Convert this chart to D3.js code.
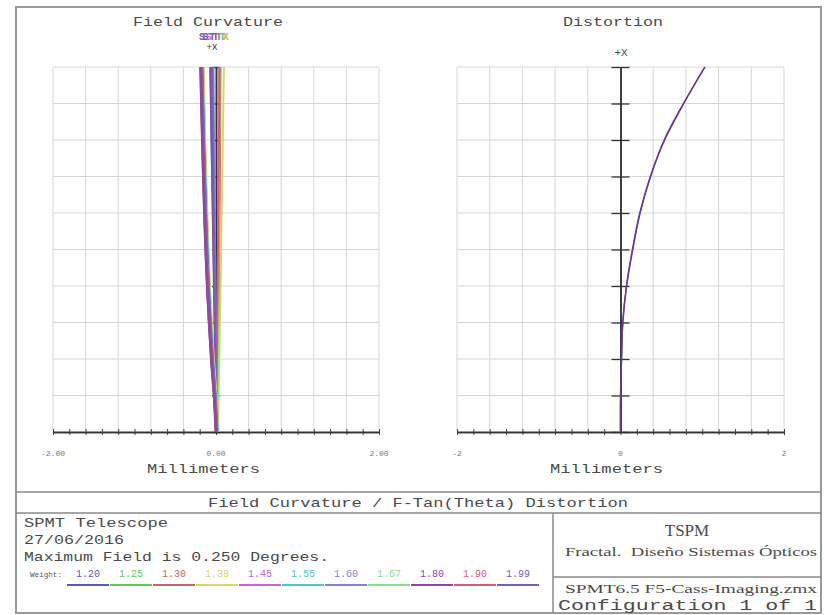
<!DOCTYPE html>
<html>
<head>
<meta charset="utf-8">
<script src="https://cdn.jsdelivr.net/npm/d3@7"></script>
<style>
body { margin: 0; background: #fff; }
svg { display: block; }
text { font-family: "Liberation Mono", "DejaVu Sans Mono", monospace; fill: #4a4a4a; white-space: pre; }
</style>
</head>
<body>
<svg id="chart" width="825" height="615"></svg>
<script>

// field points (degrees), the y axis of both plots
const fieldDeg = [0, 0.025, 0.05, 0.075, 0.1, 0.125, 0.15, 0.175, 0.2, 0.225, 0.25];

const wavelengths = ['1.20', '1.25', '1.30', '1.38', '1.45', '1.55', '1.60', '1.67', '1.80', '1.90', '1.99'];
const wlColors = ['#5a5ab4', '#5ec85e', '#c86464', '#d6d66a', '#c864c8', '#50c8c8',
                  '#8282d2', '#8cdc8c', '#8c4aa0', '#dc5a78', '#6e64b4'];

// tangential focus shift (mm) per wavelength
const tangential = [
    [0.010, -0.012, -0.045, -0.072, -0.095, -0.113, -0.128, -0.141, -0.153, -0.164, -0.174],
    [0.015, -0.008, -0.040, -0.066, -0.089, -0.107, -0.122, -0.135, -0.147, -0.158, -0.168],
    [0.020, -0.004, -0.036, -0.062, -0.085, -0.103, -0.118, -0.131, -0.143, -0.153, -0.163],
    [0.025, 0.000, -0.032, -0.058, -0.080, -0.098, -0.113, -0.126, -0.138, -0.148, -0.158],
    [0.005, -0.018, -0.052, -0.079, -0.102, -0.120, -0.136, -0.149, -0.161, -0.172, -0.182],
    [0.012, -0.010, -0.043, -0.070, -0.093, -0.111, -0.126, -0.139, -0.151, -0.162, -0.172],
    [0.008, -0.015, -0.048, -0.075, -0.098, -0.116, -0.131, -0.145, -0.157, -0.168, -0.178],
    [0.018, -0.006, -0.038, -0.064, -0.087, -0.105, -0.120, -0.133, -0.145, -0.156, -0.166],
    [0.000, -0.022, -0.056, -0.083, -0.106, -0.125, -0.140, -0.154, -0.166, -0.177, -0.187],
    [0.003, -0.020, -0.054, -0.081, -0.104, -0.123, -0.138, -0.152, -0.164, -0.175, -0.185],
    [0.006, -0.017, -0.050, -0.077, -0.100, -0.118, -0.134, -0.147, -0.159, -0.170, -0.180]
];

// sagittal focus shift (mm) per wavelength
const sagittal = [
    [0.010, 0.004, -0.004, -0.013, -0.021, -0.030, -0.038, -0.047, -0.055, -0.063, -0.071],
    [0.015, 0.017, 0.020, 0.022, 0.025, 0.027, 0.029, 0.031, 0.033, 0.034, 0.036],
    [0.020, 0.024, 0.029, 0.033, 0.037, 0.041, 0.044, 0.047, 0.050, 0.052, 0.055],
    [0.025, 0.032, 0.040, 0.048, 0.056, 0.063, 0.070, 0.077, 0.084, 0.090, 0.097],
    [0.005, 0.001, -0.006, -0.012, -0.019, -0.025, -0.031, -0.037, -0.043, -0.049, -0.054],
    [0.012, 0.007, 0.000, -0.008, -0.016, -0.024, -0.032, -0.040, -0.048, -0.056, -0.064],
    [0.008, 0.005, 0.001, -0.003, -0.008, -0.012, -0.016, -0.020, -0.024, -0.028, -0.031],
    [0.018, 0.020, 0.023, 0.026, 0.029, 0.032, 0.035, 0.037, 0.040, 0.042, 0.045],
    [0.000, -0.004, -0.011, -0.018, -0.026, -0.033, -0.040, -0.047, -0.054, -0.061, -0.067],
    [0.003, 0.006, 0.011, 0.015, 0.020, 0.024, 0.028, 0.032, 0.036, 0.039, 0.043],
    [0.006, 0.002, -0.004, -0.010, -0.016, -0.022, -0.028, -0.033, -0.039, -0.044, -0.049]
];

// f-tan(theta) distortion, two nearly identical wavelength traces
const distortion = [
    [0, 0.000, 0.012, 0.027, 0.072, 0.146, 0.236, 0.365, 0.535, 0.770, 1.030],
    [0, 0.002, 0.013, 0.029, 0.075, 0.150, 0.240, 0.368, 0.540, 0.774, 1.034]
];
const distColors = ['#4a44b8', '#6a3a8a'];

// S / T marker letters stacked above the field curvature plot
const stLetters = ['S', 'S', 'S', 'T', 'T', 'T', 'T', 'X'];
const stColors = ['#8c4aa0', '#5a5ab4', '#c864c8', '#6e64b4', '#8c4aa0', '#c86464', '#50c8c8', '#c8b040'];

const svg = d3.select('#chart');

function label(x, y, str, opt) {
    opt = opt || {};
    const t = svg.append('text')
        .attr('x', x)
        .attr('y', y)
        .attr('font-size', opt.size || 13)
        .attr('text-anchor', opt.anchor || 'start')
        .text(str);
    if (opt.len) t.attr('textLength', opt.len).attr('lengthAdjust', 'spacingAndGlyphs');
    if (opt.fill) t.style('fill', opt.fill);
    if (opt.font) t.style('font-family', opt.font);
    return t;
}

class CurvePanel {

    constructor( config ) {
        this.config = {
            xRange: config.xRange,
            yRange: config.yRange || [432, 67],
            domain: config.domain || [-2, 2],
            fieldMax: config.fieldMax || 0.25,
            axisTick: config.axisTick || 4,
            tickLabels: config.tickLabels,
        };
        this.init();
    }

    init() {
        let self = this;
        const c = self.config;

        self.xscale = d3.scaleLinear().domain(c.domain).range(c.xRange);
        self.yscale = d3.scaleLinear().domain([0, c.fieldMax]).range(c.yRange);
        self.g = svg.append('g');

        // grid
        const step = (c.domain[1] - c.domain[0]) / 10;
        const xgrid = d3.range(11).map(i => c.domain[0] + i * step);
        const ygrid = d3.range(11).map(i => i * c.fieldMax / 10);
        self.g.append('g').selectAll('line').data(xgrid).join('line')
            .attr('x1', d => self.xscale(d)).attr('x2', d => self.xscale(d))
            .attr('y1', c.yRange[0]).attr('y2', c.yRange[1])
            .attr('stroke', '#d6d6d6');
        self.g.append('g').selectAll('line').data(ygrid).join('line')
            .attr('x1', c.xRange[0]).attr('x2', c.xRange[1])
            .attr('y1', d => self.yscale(d)).attr('y2', d => self.yscale(d))
            .attr('stroke', '#d6d6d6');

        // bottom axis, ticks cross the line
        const minor = d3.range(21).map(i => c.domain[0] + i * step / 2);
        const ax = self.g.append('g').attr('transform', `translate(0, ${c.yRange[0]})`);
        ax.append('g').call(d3.axisBottom(self.xscale).tickValues(minor).tickSizeInner(3).tickSizeOuter(0).tickFormat(''));
        ax.append('g').call(d3.axisTop(self.xscale).tickValues(minor).tickSizeInner(3).tickSizeOuter(0).tickFormat(''));
        ax.selectAll('.domain').attr('stroke', '#333').attr('stroke-width', 1.5);
        ax.selectAll('.tick line').attr('stroke', '#444');

        // center axis at x = 0
        const cx = self.xscale(0);
        self.yaxis = self.g.append('g').attr('transform', `translate(${cx}, 0)`);
        self.yaxis.append('g').call(d3.axisRight(self.yscale).tickValues(ygrid).tickSizeInner(c.axisTick).tickSizeOuter(0).tickFormat(''));
        self.yaxis.append('g').call(d3.axisLeft(self.yscale).tickValues(ygrid).tickSizeInner(c.axisTick).tickSizeOuter(0).tickFormat(''));
        self.yaxis.selectAll('.domain').attr('stroke', '#333').attr('stroke-width', 1.5);
        self.yaxis.selectAll('.tick line').attr('stroke', '#333').attr('stroke-width', 1.3);

        // tick labels
        c.tickLabels.forEach(t => {
            label(self.xscale(t.v), 456, t.s, {size: 8, anchor: 'middle', fill: '#777'});
        });

        self.line = d3.line()
            .curve(d3.curveCatmullRom)
            .x(d => self.xscale(d[0]))
            .y(d => self.yscale(d[1]));
    }

    render( series, color, width ) {
        let self = this;
        self.g.append('path')
            .datum(series.map((v, i) => [v, fieldDeg[i]]))
            .attr('d', self.line)
            .attr('fill', 'none')
            .attr('stroke', color)
            .attr('stroke-width', width);
    }
}

// outer frame and footer boxes
svg.append('rect').attr('x', 16).attr('y', 7).attr('width', 805).attr('height', 606)
    .attr('fill', '#fff').attr('stroke', '#999').attr('stroke-width', 2);
[[16, 492, 821, 492], [16, 513, 821, 513], [553, 513, 553, 613], [553, 577, 821, 577]].forEach(l => {
    svg.append('line').attr('x1', l[0]).attr('y1', l[1]).attr('x2', l[2]).attr('y2', l[3])
        .attr('stroke', '#8a8a8a').attr('stroke-width', 1.5);
});

// field curvature panel
const fc = new CurvePanel({
    xRange: [53, 379],
    axisTick: 4,
    tickLabels: [{v: -2, s: '-2.00'}, {v: 0, s: '0.00'}, {v: 2, s: '2.00'}]
});
sagittal.forEach((s, i) => fc.render(s, wlColors[i], 2));
[1, 2, 3, 7, 5, 0, 6, 4, 10, 9, 8].forEach(i => fc.render(tangential[i], wlColors[i], 3));

// distortion panel
const dp = new CurvePanel({
    xRange: [457, 784],
    axisTick: 9,
    tickLabels: [{v: -2, s: '-2'}, {v: 0, s: '0'}, {v: 2, s: '2'}]
});
distortion.forEach((s, i) => dp.render(s, distColors[i], 1.4));

// titles
label(133, 26, 'Field Curvature', {len: 150});
label(563, 26, 'Distortion', {len: 100});
const st = svg.append('text').attr('x', 199).attr('y', 40).attr('font-size', 10)
    .attr('font-weight', 'bold').attr('letter-spacing', -2.6);
st.selectAll('tspan').data(stLetters).join('tspan')
    .text(d => d)
    .style('fill', (d, i) => stColors[i]);
label(212, 50, '+X', {size: 9, anchor: 'middle', fill: '#333'});
label(621, 56, '+X', {size: 11, anchor: 'middle'});
label(147, 473, 'Millimeters', {len: 113});
label(550, 473, 'Millimeters', {len: 113});

// footer
label(208, 507, 'Field Curvature / F-Tan(Theta) Distortion', {len: 420});
label(24, 527, 'SPMT Telescope', {len: 144});
label(24, 544, '27/06/2016', {len: 100});
label(24, 561, 'Maximum Field is 0.250 Degrees.', {len: 305});
label(30, 577, 'Weight:', {size: 8, len: 32, fill: '#555'});
wavelengths.forEach((w, i) => {
    const cxl = 88 + i * 43;
    label(cxl, 577, w, {size: 10, anchor: 'middle', fill: wlColors[i]});
    svg.append('line').attr('x1', cxl - 21).attr('x2', cxl + 21).attr('y1', 585).attr('y2', 585)
        .attr('stroke', wlColors[i]).attr('stroke-width', 2);
});
const serif = '"Liberation Serif", "DejaVu Serif", serif';
label(687, 536, 'TSPM', {size: 17, anchor: 'middle', font: serif});
label(565, 556, 'Fractal.  Diseño Sistemas Ópticos', {size: 12, len: 252, font: serif});
label(565, 593, 'SPMT6.5 F5-Cass-Imaging.zmx', {size: 12, len: 252, font: serif});
label(558, 610, 'Configuration 1 of 1', {size: 14, len: 259});

</script>
</body>
</html>
